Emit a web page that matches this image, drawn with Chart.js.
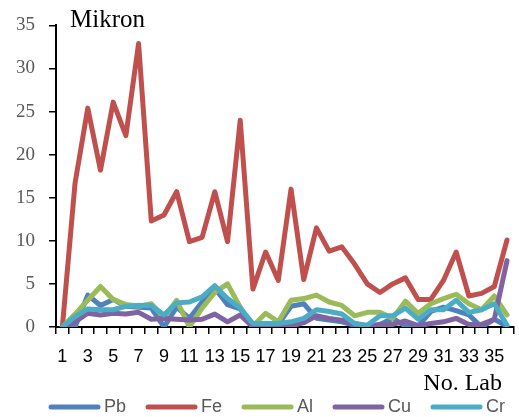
<!DOCTYPE html>
<html>
<head>
<meta charset="utf-8">
<script src="https://cdn.jsdelivr.net/npm/chart.js@4.4.1/dist/chart.umd.min.js"></script>
<style>
  html, body { margin: 0; padding: 0; background: #fff; }
  #wrap { width: 519px; height: 417px; }
</style>
</head>
<body>
<div id="wrap"><canvas id="c" width="519" height="417"></canvas></div>
<script>
const labs = ['1','2','3','4','5','6','7','8','9','10','11','12','13','14','15','16','17','18',
              '19','20','21','22','23','24','25','26','27','28','29','30','31','32','33','34','35','36'];
const Pb = [0,0,3.7,2.5,3.2,2.4,2.3,2.2,0,2.3,1.0,2.9,4.5,2.6,2.1,0.2,0.3,0.3,2.4,2.7,1.0,0.8,0.6,0.2,0,0.3,1.0,0.1,0.1,1.8,2.3,1.9,1.4,0,0.9,0.1];
const Fe = [0,16.7,25.4,18.2,26.1,22.2,32.9,12.3,13,15.7,9.9,10.4,15.7,9.9,24,4.4,8.7,5.4,16,5.5,11.5,8.8,9.3,7.3,5.0,4.0,5.0,5.7,3.2,3.2,5.4,8.7,3.6,3.9,4.7,10.1];
const Al = [0,1.5,3.1,4.7,3.2,2.6,2.4,2.7,1.1,3.1,0,2.2,4.0,5.0,2.3,0.1,1.6,0.6,3.1,3.3,3.7,2.9,2.5,1.3,1.7,1.7,1.0,3.0,1.6,2.7,3.3,3.8,2.7,2.0,3.6,1.4];
const Cu = [0,0.6,1.6,1.4,1.6,1.5,1.7,0.9,1.0,0.9,0.8,0.9,1.5,0.6,1.4,0,0,0,0.1,0.5,1.3,1.0,0.8,0.4,0.1,0.3,0.3,0.7,0.15,0.4,0.6,1.0,0.3,0.3,0.9,7.7];
const Cr = [0,1.2,2.1,2.0,2.0,2.4,2.5,2.5,1.4,2.8,2.9,3.5,4.8,3.3,2.2,0.4,0.4,0.4,0.6,1.0,2.0,1.8,1.5,0.4,0.2,1.3,1.3,2.2,0.9,2.0,2.0,3.1,1.7,2.0,2.7,0.2];
const seriesNames = ['Pb','Fe','Al','Cu','Cr'];
const seriesData = [Pb, Fe, Al, Cu, Cr];
const seriesColors = ['#4F81BD','#C0504D','#9BBB59','#8064A2','#4BACC6'];
const yTitle = 'Mikron';
const xTitle = 'No. Lab';

const datasets = seriesNames.map((n, i) => ({
  label: n,
  data: seriesData[i],
  borderColor: seriesColors[i],
  backgroundColor: seriesColors[i],
  borderWidth: 5,
  pointRadius: 0,
  tension: 0,
  fill: false,
  borderCapStyle: 'round',
  borderJoinStyle: 'round',
  order: seriesNames.length - i
}));

const extras = {
  id: 'extras',
  afterDraw(chart) {
    const ctx = chart.ctx;
    const area = chart.chartArea;
    ctx.save();
    ctx.fillStyle = '#000';
    ctx.textBaseline = 'alphabetic';
    ctx.font = '25px "Liberation Serif"';
    ctx.textAlign = 'left';
    ctx.fillText(yTitle, area.left + 14, 27);
    ctx.font = '24px "Liberation Serif"';
    ctx.textAlign = 'right';
    ctx.fillText(xTitle, 502, 390);
    // legend
    ctx.font = '18px "Liberation Sans"';
    ctx.textAlign = 'left';
    ctx.textBaseline = 'middle';
    let x = 49;
    const y = 407;
    chart.data.datasets.forEach(ds => {
      ctx.strokeStyle = ds.borderColor;
      ctx.lineWidth = 5;
      ctx.lineCap = 'round';
      ctx.beginPath();
      ctx.moveTo(x + 2, y);
      ctx.lineTo(x + 49, y);
      ctx.stroke();
      ctx.fillStyle = '#595959';
      ctx.fillText(ds.label, x + 55, y);
      x += 55 + ctx.measureText(ds.label).width + 20;
    });
    ctx.restore();
  }
};

new Chart(document.getElementById('c'), {
  type: 'line',
  data: { labels: labs, datasets },
  plugins: [extras],
  options: {
    responsive: false,
    devicePixelRatio: 1,
    animation: false,
    layout: { padding: { top: 22, right: 0, left: 0, bottom: 0 } },
    plugins: { legend: { display: false }, tooltip: { enabled: false } },
    scales: {
      x: {
        type: 'category',
        offset: true,
        afterFit(s) { s.height = 90; },
        grid: { drawOnChartArea: false, drawTicks: true, tickLength: 7, color: '#000', lineWidth: 1.5, offset: true },
        border: { color: '#000', width: 2 },
        ticks: {
          autoSkip: false, maxRotation: 0, minRotation: 0, padding: 12,
          color: '#000',
          font: { family: '"Liberation Sans"', size: 18 },
          callback(v, i) { return i % 2 === 0 ? labs[i] : ''; }
        }
      },
      y: {
        min: 0, max: 35,
        afterFit(s) { s.width = 56; },
        grid: { drawOnChartArea: false, drawTicks: true, tickLength: 7, color: '#000', lineWidth: 1.5 },
        border: { color: '#000', width: 2 },
        ticks: {
          stepSize: 5, padding: 14,
          color: '#595959',
          font: { family: '"Liberation Serif"', size: 19 }
        }
      }
    }
  }
});
</script>
</body>
</html>
